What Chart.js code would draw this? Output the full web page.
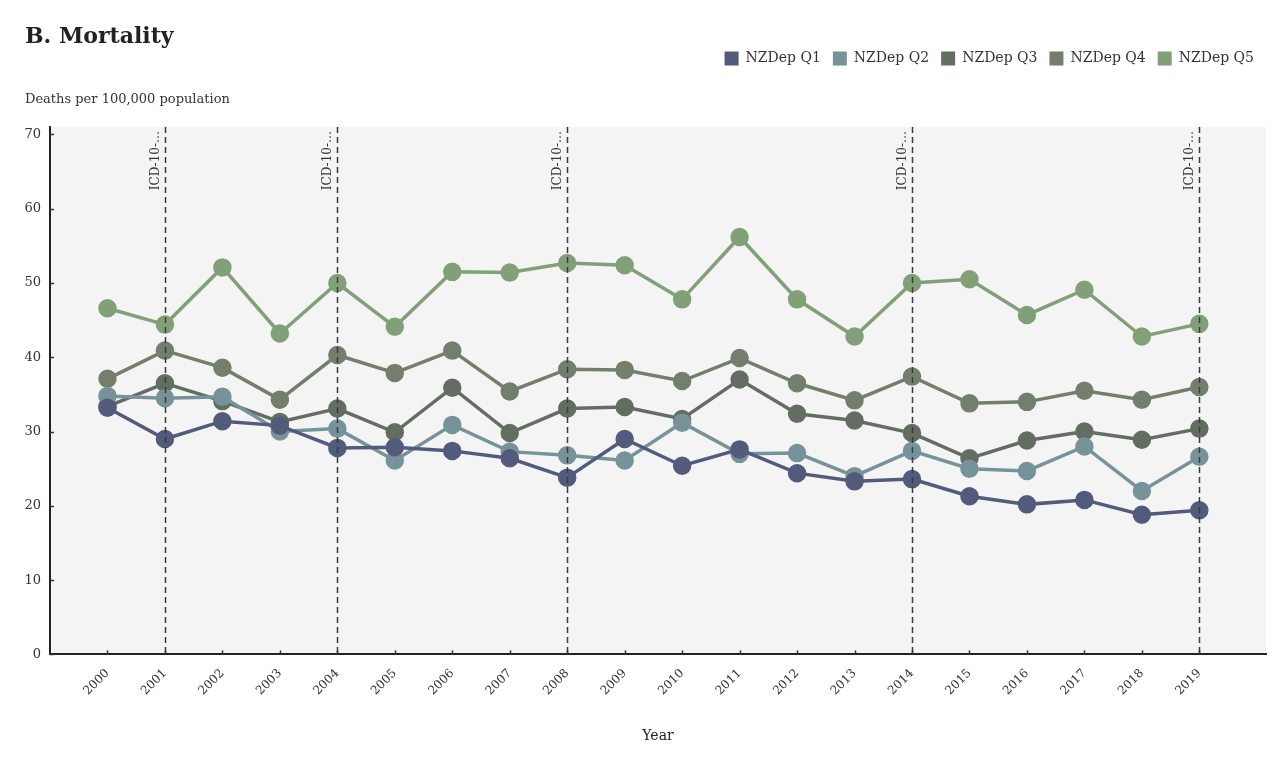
<!DOCTYPE html>
<html>
<head>
<meta charset="utf-8">
<title>B. Mortality</title>
<script src="https://cdn.jsdelivr.net/npm/chart.js@4/dist/chart.umd.min.js"></script>
<style>
  html, body { margin: 0; padding: 0; background: #fff; }
</style>
</head>
<body>
<canvas id="mortality-chart" width="1286" height="772"></canvas>
<script>
const years = [2000, 2001, 2002, 2003, 2004, 2005, 2006, 2007, 2008, 2009,
               2010, 2011, 2012, 2013, 2014, 2015, 2016, 2017, 2018, 2019];

// deaths per 100,000 population, by NZDep quintile
const q1 = [33.2, 29.0, 31.4, 30.8, 27.8, 27.9, 27.4, 26.4, 23.8, 29.0,
            25.4, 27.6, 24.4, 23.3, 23.6, 21.3, 20.2, 20.8, 18.8, 19.4];
const q2 = [34.8, 34.5, 34.7, 30.0, 30.4, 26.1, 30.9, 27.3, 26.8, 26.1,
            31.2, 27.0, 27.1, 24.0, 27.4, 25.0, 24.7, 28.0, 22.0, 26.6];
const q3 = [33.4, 36.5, 34.1, 31.3, 33.1, 29.9, 35.9, 29.8, 33.1, 33.3,
            31.7, 37.0, 32.4, 31.5, 29.8, 26.4, 28.8, 30.0, 28.9, 30.4];
const q4 = [37.1, 40.9, 38.6, 34.3, 40.3, 37.9, 40.9, 35.4, 38.4, 38.3,
            36.8, 39.9, 36.5, 34.2, 37.4, 33.8, 34.0, 35.5, 34.3, 36.0];
const q5 = [46.6, 44.4, 52.1, 43.2, 50.0, 44.1, 51.5, 51.4, 52.7, 52.4,
            47.8, 56.2, 47.8, 42.8, 50.0, 50.5, 45.7, 49.1, 42.8, 44.5];

const seriesNames = ['NZDep Q1', 'NZDep Q2', 'NZDep Q3', 'NZDep Q4', 'NZDep Q5'];
const seriesColors = ['#525b7b', '#76939a', '#636d62', '#737f6c', '#82a078'];

const yTicks = [0, 10, 20, 30, 40, 50, 60, 70];
const icdYears = [2001, 2004, 2008, 2014, 2019];
const icdLabel = 'ICD-10-…';

const FONT = '"DejaVu Serif", "Liberation Serif", serif';

const plotBackground = {
  id: 'plotBackground',
  beforeDraw(chart) {
    const {ctx, chartArea: a} = chart;
    ctx.save();
    ctx.fillStyle = '#f4f4f4';
    ctx.fillRect(a.left, a.top, a.width, a.height);
    ctx.restore();
  }
};

// dashed ICD revision markers + small inward tick marks
const icdLines = {
  id: 'icdLines',
  afterDatasetsDraw(chart) {
    const {ctx, chartArea: a, scales: {x}} = chart;
    ctx.save();
    icdYears.forEach(yr => {
      const px = Math.round(x.getPixelForValue(yr)) + 0.5;
      ctx.strokeStyle = '#3a3a3a';
      ctx.lineWidth = 1.5;
      ctx.setLineDash([6, 4]);
      ctx.beginPath();
      ctx.moveTo(px, a.top);
      ctx.lineTo(px, a.bottom);
      ctx.stroke();

      ctx.save();
      ctx.translate(px - 4, a.top + 4);
      ctx.rotate(-Math.PI / 2);
      ctx.textAlign = 'right';
      ctx.textBaseline = 'bottom';
      ctx.fillStyle = '#333';
      ctx.font = '12px ' + FONT;
      ctx.fillText(icdLabel, 0, 0);
      ctx.restore();
    });
    ctx.restore();
  },
  afterDraw(chart) {
    const {ctx, chartArea: a, scales: {x, y}} = chart;
    ctx.save();
    ctx.strokeStyle = '#333';
    ctx.lineWidth = 1.5;
    x.ticks.forEach(t => {
      const px = Math.round(x.getPixelForValue(t.value)) + 0.5;
      ctx.beginPath();
      ctx.moveTo(px, a.bottom);
      ctx.lineTo(px, a.bottom - 4);
      ctx.stroke();
    });
    y.ticks.forEach(t => {
      const py = Math.round(y.getPixelForValue(t.value)) + 0.5;
      ctx.beginPath();
      ctx.moveTo(a.left, py);
      ctx.lineTo(a.left + 4, py);
      ctx.stroke();
    });
    ctx.restore();
  }
};

const series = [q1, q2, q3, q4, q5];

new Chart(
  document.getElementById('mortality-chart'),
  {
    type: 'line',
    data: {
      datasets: series.map((vals, i) => ({
        label: seriesNames[i],
        data: years.map((yr, j) => ({x: yr, y: vals[j]})),
        borderColor: seriesColors[i],
        backgroundColor: seriesColors[i],
        pointBackgroundColor: seriesColors[i],
        pointBorderColor: seriesColors[i],
        borderWidth: 3.5,
        pointRadius: 7.5,
        pointHoverRadius: 7.5,
        tension: 0
      }))
    },
    options: {
      responsive: false,
      animation: false,
      layout: {
        padding: {left: 25, right: 20, top: 0, bottom: 27}
      },
      plugins: {
        title: {
          display: true,
          text: 'B. Mortality',
          align: 'start',
          color: '#222',
          font: {family: FONT, size: 22, weight: 'bold'},
          padding: {top: 24, bottom: -11}
        },
        legend: {
          display: true,
          align: 'end',
          labels: {
            color: '#333',
            font: {family: FONT, size: 14},
            boxWidth: 14,
            boxHeight: 14,
            padding: 12,
            generateLabels: chart =>
              Chart.defaults.plugins.legend.labels.generateLabels(chart)
                .map(l => ({...l, lineWidth: 0}))
          }
        },
        subtitle: {
          display: true,
          weight: 500,
          text: 'Deaths per 100,000 population',
          align: 'start',
          color: '#333',
          font: {family: FONT, size: 13},
          padding: {top: 16, bottom: 20}
        },
        tooltip: {
          enabled: true
        }
      },
      scales: {
        x: {
          type: 'linear',
          min: 1999,
          max: 2020.16,
          afterBuildTicks: scale => {
            scale.ticks = years.map(v => ({value: v}));
          },
          grid: {display: false, drawTicks: false},
          border: {display: true, color: '#222', width: 2},
          ticks: {
            autoSkip: false,
            minRotation: 45,
            maxRotation: 45,
            padding: 12,
            color: '#333',
            font: {family: FONT, size: 12},
            callback: v => String(v)
          },
          title: {
            display: true,
            text: 'Year',
            color: '#222',
            font: {family: FONT, size: 14},
            padding: {top: 18, bottom: 0}
          }
        },
        y: {
          min: 0,
          max: 71,
          afterBuildTicks: scale => {
            scale.ticks = yTicks.map(v => ({value: v}));
          },
          afterFit: scale => {
            scale.width = 25;
          },
          grid: {display: false, drawTicks: false},
          border: {display: true, color: '#222', width: 2},
          ticks: {
            padding: 9,
            color: '#333',
            font: {family: FONT, size: 13}
          }
        }
      }
    },
    plugins: [plotBackground, icdLines]
  }
);
</script>
</body>
</html>
